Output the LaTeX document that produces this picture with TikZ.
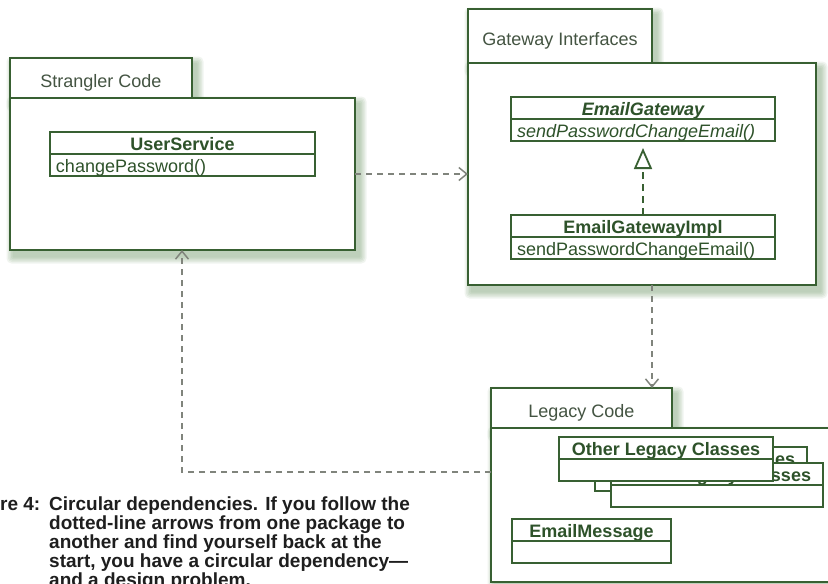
\documentclass[tikz,border=0pt]{standalone}
\usepackage{fontspec}
\setmainfont{Liberation Sans}
\usepackage{tikz}
\usetikzlibrary{arrows.meta,positioning,calc,backgrounds}

\definecolor{umlgreen}{RGB}{56,96,50}
\definecolor{umltext}{RGB}{46,82,42}
\definecolor{pkglabel}{RGB}{68,84,66}
\definecolor{depgray}{RGB}{128,132,124}
\definecolor{shadowgreen}{RGB}{60,115,50}
\definecolor{captiongray}{RGB}{30,30,30}

\newcommand{\umlfont}{\fontsize{18}{20}\selectfont}
\newcommand{\capfont}{\fontsize{19}{19}\selectfont\bfseries}

% soft shadow behind a package part
\newcommand{\pkgshade}[1]{%
  \foreach \e in {1,...,5}{%
    \fill[shadowgreen,fill opacity=0.08,rounded corners=\e pt]
      ([shift={(4-1.5*\e,6-1.5*\e)}]#1.north west) rectangle ([shift={(4+1.5*\e,6+1.5*\e)}]#1.south east);}}

\begin{document}
\begin{tikzpicture}[x=1pt,y=-1pt,
  pkgtab/.style={draw=umlgreen,line width=1.8pt,fill=white,outer sep=0pt,anchor=north west,
    font=\umlfont,text=pkglabel,text height=18pt,text depth=0pt,inner sep=0pt},
  pkgbody/.style={draw=umlgreen,line width=1.8pt,fill=white,outer sep=0pt,inner sep=0pt},
  clstitle/.style={draw=umlgreen,line width=1.8pt,fill=white,outer sep=0pt,anchor=north west,inner sep=0pt,
    minimum height=22pt,text height=14pt,text depth=0pt,font=\umlfont\bfseries,text=umltext},
  clsops/.style={draw=umlgreen,line width=1.8pt,fill=white,outer sep=0pt,inner xsep=6pt,inner ysep=0pt,
    minimum height=22pt,text height=14pt,text depth=0pt,align=left,font=\umlfont,text=umltext},
  dep/.style={draw=depgray,line width=1.5pt,dash pattern=on 6pt off 5pt,
    -{Straight Barb[length=8pt,width=13pt,line width=1.5pt]}},
  realize/.style={draw=umlgreen,line width=1.8pt,dash pattern=on 7pt off 5pt,
    -{Triangle[open,length=21pt,width=18pt,line width=1.8pt]},shorten >=7pt}]
  \useasboundingbox (0,0) rectangle (828,584);
  \clip (0,0) rectangle (828,584);

  % Strangler Code
  \node[pkgtab,minimum width=182pt,minimum height=40pt] (strtab) at (10,58) {Strangler Code};
  \node[pkgbody,below right=0pt and 0pt of strtab.south west,minimum width=345pt,minimum height=152pt] (strbody) {};
  \node[clstitle,minimum width=265pt] (usersvc) at (50,132) {UserService};
  \node[clsops,text width=253pt,below=0pt of usersvc] (usersvc-ops) {changePassword()};

  % Gateway Interfaces
  \node[pkgtab,minimum width=184pt,minimum height=54pt] (gwtab) at (468,9) {Gateway Interfaces};
  \node[pkgbody,below right=0pt and 0pt of gwtab.south west,minimum width=348pt,minimum height=222pt] (gwbody) {};
  \node[clstitle,minimum width=264pt,font=\umlfont\bfseries\itshape] (emailgw) at (511,97) {EmailGateway};
  \node[clsops,text width=252pt,font=\umlfont\itshape,below=0pt of emailgw] (emailgw-ops) {sendPasswordChangeEmail()};
  \node[clstitle,minimum width=264pt] (gwimpl) at (511,215) {EmailGatewayImpl};
  \node[clsops,text width=252pt,below=0pt of gwimpl] (gwimpl-ops) {sendPasswordChangeEmail()};

  % Legacy Code
  \node[pkgtab,minimum width=181pt,minimum height=40pt] (lgtab) at (491,388) {Legacy Code};
  \node[pkgbody,below right=0pt and 0pt of lgtab.south west,minimum width=370pt,minimum height=154pt] (lgbody) {};
  \node[clstitle,minimum width=212pt] (other3) at (595,447) {Other Legacy Classes};
  \node[clsops,text width=200pt,below=0pt of other3] (other3-ops) {};
  \node[clstitle,minimum width=212pt] (other2) at (611,463) {Other Legacy Classes};
  \node[clsops,text width=200pt,below=0pt of other2] (other2-ops) {};
  \node[clstitle,minimum width=214pt] (other) at (559,437) {Other Legacy Classes};
  \node[clsops,text width=202pt,below=0pt of other] (other-ops) {};
  \node[clstitle,minimum width=159pt] (emailmsg) at (512,519) {EmailMessage};
  \node[clsops,text width=147pt,below=0pt of emailmsg] (emailmsg-ops) {};

  \begin{scope}[on background layer]
    \pkgshade{strtab} \pkgshade{strbody}
    \pkgshade{gwtab} \pkgshade{gwbody}
    \pkgshade{lgtab} \pkgshade{lgbody}
  \end{scope}

  % dependencies
  \draw[dep] (strbody.east) -- (strbody.east -| gwbody.west);
  \draw[dep] (gwtab.south east |- gwbody.south) -- (gwtab.south east |- lgtab.north);
  \coordinate (loopturn) at (182,472);
  \draw[dep] (lgbody.west |- loopturn) -- (loopturn) -- (loopturn |- strbody.south);
  \draw[realize] (gwimpl.north) -- (emailgw-ops.south);

  % caption
  \node[anchor=base west,font=\capfont,text=captiongray,inner sep=0pt] (figno) at (0,510) {re 4:};
  \node[anchor=base west,font=\capfont,text=captiongray,inner sep=0pt,align=left] (caption) at (49,586)
    {Circular dependencies. If you follow the\\
     dotted-line arrows from one package to\\
     another and find yourself back at the\\
     start, you have a circular dependency—\\
     and a design problem.};
\end{tikzpicture}
\end{document}
